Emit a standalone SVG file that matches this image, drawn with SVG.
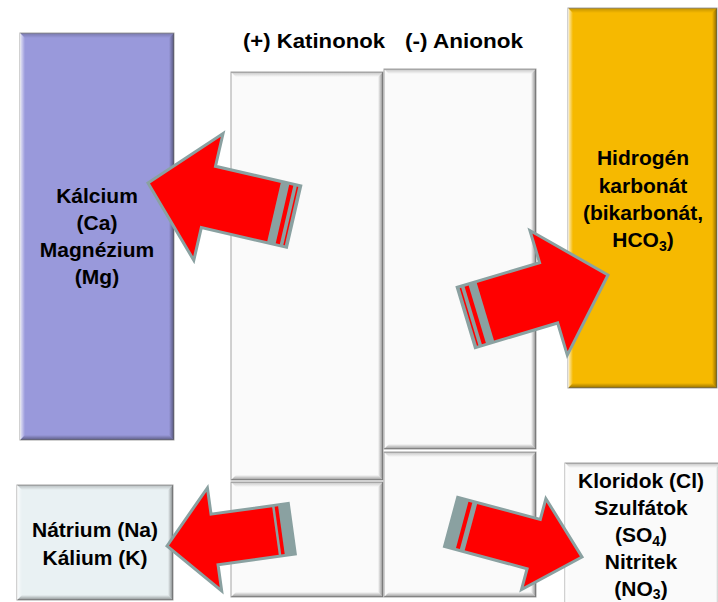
<svg xmlns="http://www.w3.org/2000/svg" width="718" height="602" viewBox="0 0 718 602">
<style>
  .t { font-family: "Liberation Sans", Arial, sans-serif; font-weight: bold; fill: #000; }
  .lbl { font-size: 21px; text-anchor: middle; }
  .hdr { font-size: 21px; }
  .edge { stroke: #a3a3a3; stroke-width: 1; }
  .arr { fill: #ff0000; stroke: #8aa1a1; stroke-width: 3; stroke-linejoin: miter; }
  .tg { fill: #8aa1a1; }
  .st { fill: #ff0000; }
</style>
<defs>
  <linearGradient id="gR" x1="0" y1="0" x2="1" y2="0"><stop offset="0" stop-color="#000" stop-opacity="0"/><stop offset="1" stop-color="#000" stop-opacity="0.45"/></linearGradient>
  <linearGradient id="gB" x1="0" y1="0" x2="0" y2="1"><stop offset="0" stop-color="#000" stop-opacity="0"/><stop offset="1" stop-color="#000" stop-opacity="0.4"/></linearGradient>
  <linearGradient id="gT" x1="0" y1="0" x2="0" y2="1"><stop offset="0" stop-color="#000" stop-opacity="0.22"/><stop offset="1" stop-color="#000" stop-opacity="0"/></linearGradient>
  <linearGradient id="gL" x1="0" y1="0" x2="1" y2="0"><stop offset="0" stop-color="#fff" stop-opacity="0.8"/><stop offset="1" stop-color="#fff" stop-opacity="0"/></linearGradient>
</defs>
<rect width="718" height="602" fill="#fff"/>

<text class="t hdr" x="243" y="48" textLength="142" lengthAdjust="spacingAndGlyphs">(+) Katinonok</text>
<text class="t hdr" x="405" y="48" textLength="118" lengthAdjust="spacingAndGlyphs">(-) Anionok</text>

<g id="kation-upper">
  <rect class="edge" x="231" y="72" width="152" height="408" fill="#fafafa"/>
  <polygon points="383,72 383,480 378,475 378,77" fill="url(#gR)"/>
  <polygon points="231,480 383,480 378,475 236,475" fill="url(#gB)"/>
  <polygon points="231,72 383,72 378,77 236,77" fill="url(#gT)"/>
</g>
<g id="kation-lower">
  <rect class="edge" x="231" y="482" width="152" height="115" fill="#fafafa"/>
  <polygon points="383,482 383,597 378,592 378,487" fill="url(#gR)"/>
  <polygon points="231,597 383,597 378,592 236,592" fill="url(#gB)"/>
  <polygon points="231,482 383,482 378,487 236,487" fill="url(#gT)"/>
</g>
<g id="anion-upper">
  <rect class="edge" x="384" y="69" width="152" height="380" fill="#fafafa"/>
  <polygon points="536,69 536,449 531,444 531,74" fill="url(#gR)"/>
  <polygon points="384,449 536,449 531,444 389,444" fill="url(#gB)"/>
  <polygon points="384,69 536,69 531,74 389,74" fill="url(#gT)"/>
</g>
<g id="anion-lower">
  <rect class="edge" x="384" y="452" width="152" height="145" fill="#fafafa"/>
  <polygon points="536,452 536,597 531,592 531,457" fill="url(#gR)"/>
  <polygon points="384,597 536,597 531,592 389,592" fill="url(#gB)"/>
  <polygon points="384,452 536,452 531,457 389,457" fill="url(#gT)"/>
</g>

<g id="kalcium">
  <rect class="edge" x="20" y="33" width="154" height="407" fill="#9999db"/>
  <polygon points="174,33 174,440 169,435 169,38" fill="url(#gR)"/>
  <polygon points="20,440 174,440 169,435 25,435" fill="url(#gB)"/>
  <polygon points="20,33 174,33 169,38 25,38" fill="url(#gT)"/>
  <polygon points="20,33 25,38 25,435 20,440" fill="url(#gL)"/>
  <text class="t lbl" x="97" y="203">Kálcium</text>
  <text class="t lbl" x="97" y="230">(Ca)</text>
  <text class="t lbl" x="97" y="257">Magnézium</text>
  <text class="t lbl" x="97" y="284">(Mg)</text>
</g>

<g id="hidrogenkarbonat">
  <rect class="edge" x="568" y="8" width="149" height="380" fill="#f6b900"/>
  <polygon points="717,8 717,388 712,383 712,13" fill="url(#gR)"/>
  <polygon points="568,388 717,388 712,383 573,383" fill="url(#gB)"/>
  <polygon points="568,8 717,8 712,13 573,13" fill="url(#gT)"/>
  <polygon points="568,8 573,13 573,383 568,388" fill="url(#gL)"/>
  <text class="t lbl" x="643" y="165">Hidrogén</text>
  <text class="t lbl" x="643" y="193">karbonát</text>
  <text class="t lbl" x="643" y="220">(bikarbonát,</text>
  <text class="t lbl" x="643" y="247">HCO<tspan font-size="14" dy="4">3</tspan><tspan dy="-4">)</tspan></text>
</g>

<g id="natrium">
  <rect class="edge" x="17" y="485" width="156" height="115" fill="#e9f1f3"/>
  <polygon points="173,485 173,600 168,595 168,490" fill="url(#gR)"/>
  <polygon points="17,600 173,600 168,595 22,595" fill="url(#gB)"/>
  <polygon points="17,485 173,485 168,490 22,490" fill="url(#gT)"/>
  <polygon points="17,485 22,490 22,595 17,600" fill="url(#gL)"/>
  <text class="t lbl" x="95" y="537">Nátrium (Na)</text>
  <text class="t lbl" x="95" y="565">Kálium (K)</text>
</g>

<g id="kloridok">
  <rect class="edge" x="565" y="463" width="156" height="145" fill="#fafafa"/>
  <polygon points="565,463 721,463 716,468 570,468" fill="url(#gT)"/>
  <polygon points="565,463 570,468 570,608 565,608" fill="url(#gL)"/>
  <polygon points="716,468 721,463 721,608 716,608" fill="url(#gR)"/>
  <text class="t lbl" x="641" y="488">Kloridok (Cl)</text>
  <text class="t lbl" x="641" y="515">Szulfátok</text>
  <text class="t lbl" x="641" y="542">(SO<tspan font-size="14" dy="4">4</tspan><tspan dy="-4">)</tspan></text>
  <text class="t lbl" x="641" y="569">Nitritek</text>
  <text class="t lbl" x="641" y="596">(NO<tspan font-size="14" dy="3">3</tspan><tspan dy="-3">)</tspan></text>
</g>

<g id="connectors">
  <g transform="translate(148 183) rotate(13)">
    <polygon class="arr" points="0,0 62,-65 62,-31.5 149.5,-31.5 149.5,31.5 62,31.5 62,65"/>
    <rect class="tg" x="129.3" y="-31.5" width="20.2" height="63"/>
    <rect class="st" x="138" y="-30" width="4.2" height="60"/>
    <rect class="st" x="145.8" y="-30" width="1.5" height="60"/>
  </g>
  <g transform="translate(608 275) rotate(163.3)">
    <polygon class="arr" points="0,0 62,-65 62,-31.5 148,-31.5 148,31.5 62,31.5 62,65"/>
    <rect class="tg" x="128" y="-31.5" width="20" height="63"/>
    <rect class="st" x="136.5" y="-30" width="4.2" height="60"/>
    <rect class="st" x="144.3" y="-30" width="1.5" height="60"/>
  </g>
  <g transform="translate(167 546) rotate(-7.9)">
    <polygon class="arr" points="0,0 48,-52 48,-25.5 126,-25.5 126,25.5 48,25.5 48,52"/>
    <rect class="tg" x="109.5" y="-25.5" width="16.5" height="51"/>
    <rect class="st" x="112" y="-24" width="3.5" height="48"/>
  </g>
  <g transform="translate(582 557) rotate(195)">
    <polygon class="arr" points="0,0 50,-47 50,-25.5 135.5,-25.5 135.5,25.5 50,25.5 50,47"/>
    <rect class="tg" x="115" y="-25.5" width="20.5" height="51"/>
    <rect class="st" x="120" y="-24" width="4" height="48"/>
  </g>
</g>
</svg>
